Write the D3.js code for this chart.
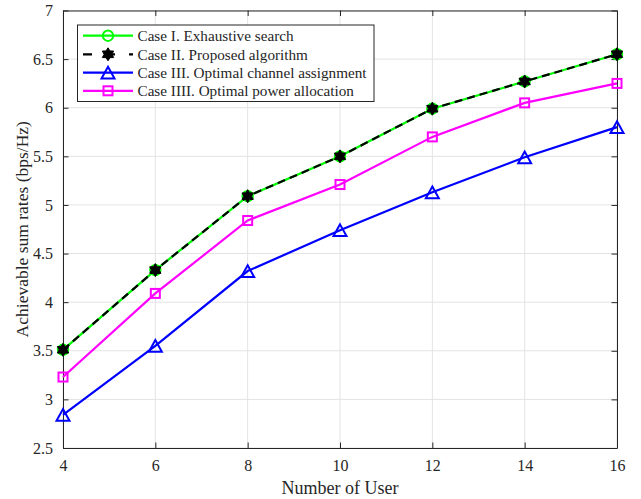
<!DOCTYPE html>
<html>
<head>
<meta charset="utf-8">
<script src="https://cdn.jsdelivr.net/npm/d3@7"></script>
<style>
  html, body { margin: 0; padding: 0; background: #fff; }
  svg { display: block; }
  text { font-family: "Liberation Serif", "Times New Roman", serif; fill: #262626; }
</style>
</head>
<body>
<svg id="chart" width="641" height="499"></svg>
<script>
// Number of users on the x axis
const users = [4, 6, 8, 10, 12, 14, 16];

// Achievable sum rates (bps/Hz) per scheme
const exhaustive = [3.51, 4.33, 5.09, 5.50, 5.99, 6.27, 6.55];
const proposed   = [3.51, 4.33, 5.09, 5.50, 5.99, 6.27, 6.55];
const channelOpt = [2.84, 3.55, 4.32, 4.74, 5.13, 5.49, 5.80];
const powerOpt   = [3.23, 4.09, 4.84, 5.21, 5.70, 6.05, 6.25];

const seriesNames = [
  "Case I. Exhaustive search",
  "Case II. Proposed algorithm",
  "Case III. Optimal channel assignment",
  "Case IIII. Optimal power allocation"
];

const xTicks = [4, 6, 8, 10, 12, 14, 16];
const yTicks = [2.5, 3, 3.5, 4, 4.5, 5, 5.5, 6, 6.5, 7];

const svg = d3.select("#chart");
const m = { left: 63, right: 24, top: 10.5, bottom: 51 };
const W = 641, H = 499;
const x = d3.scaleLinear().domain([4, 16]).range([m.left, W - m.right]);
const y = d3.scaleLinear().domain([2.5, 7]).range([H - m.bottom, m.top]);

// grid
const grid = svg.append("g").attr("stroke", "#e3e3e3").attr("stroke-width", 1);
xTicks.forEach(t => grid.append("line")
  .attr("x1", x(t)).attr("x2", x(t)).attr("y1", y(2.5)).attr("y2", y(7)));
yTicks.forEach(t => grid.append("line")
  .attr("x1", x(4)).attr("x2", x(16)).attr("y1", y(t)).attr("y2", y(t)));

// axes with inward ticks on all four sides
const tk = 5.5;
const fmt = d => String(d);
const axBottom = svg.append("g").attr("transform", `translate(0,${y(2.5)})`)
  .call(d3.axisBottom(x).tickValues(xTicks).tickSizeInner(-tk).tickSizeOuter(0).tickPadding(12).tickFormat(fmt));
const axTop = svg.append("g").attr("transform", `translate(0,${y(7)})`)
  .call(d3.axisTop(x).tickValues(xTicks).tickSizeInner(-tk).tickSizeOuter(0).tickFormat(""));
const axLeft = svg.append("g").attr("transform", `translate(${x(4)},0)`)
  .call(d3.axisLeft(y).tickValues(yTicks).tickSizeInner(-tk).tickSizeOuter(0).tickPadding(10).tickFormat(fmt));
const axRight = svg.append("g").attr("transform", `translate(${x(16)},0)`)
  .call(d3.axisRight(y).tickValues(yTicks).tickSizeInner(-tk).tickSizeOuter(0).tickFormat(""));
[axBottom, axTop, axLeft, axRight].forEach(g => {
  g.select(".domain").attr("stroke", "#262626").attr("stroke-width", 1);
  g.selectAll(".tick line").attr("stroke", "#262626");
  g.selectAll("text").style("font-family", "Liberation Serif, Times New Roman, serif")
    .style("font-size", "16px").attr("fill", "#262626");
});

// axis labels
svg.append("text").attr("x", (x(4) + x(16)) / 2).attr("y", 494)
  .attr("text-anchor", "middle").style("font-size", "18px").text("Number of User");
svg.append("text").attr("transform", `translate(28,${(y(2.5) + y(7)) / 2}) rotate(-90)`)
  .attr("text-anchor", "middle").style("font-size", "17.5px").text("Achievable sum rates (bps/Hz)");

// marker shapes
function hexagram(r) {
  const pts = [];
  for (let i = 0; i < 12; i++) {
    const a = -Math.PI / 2 + i * Math.PI / 6;
    const rr = i % 2 === 0 ? r : r * 0.6;
    pts.push([rr * Math.cos(a), rr * Math.sin(a)]);
  }
  return "M" + pts.map(p => p.join(",")).join("L") + "Z";
}
function triangle(s) {
  const h = s * 0.9;
  return `M0,${-h / 2}L${s / 2},${h / 2}L${-s / 2},${h / 2}Z`;
}

const series = [
  { name: seriesNames[0], vals: exhaustive, color: "#00ff00", dash: null,
    marker: g => g.append("circle").attr("r", 5.2).attr("fill", "none").attr("stroke", "#00ff00").attr("stroke-width", 2) },
  { name: seriesNames[1], vals: proposed, color: "#000000", dash: "8,5",
    marker: g => g.append("path").attr("d", hexagram(6.5)).attr("fill", "#000").attr("stroke", "#000").attr("stroke-width", 1) },
  { name: seriesNames[2], vals: channelOpt, color: "#0000ff", dash: null,
    marker: g => g.append("path").attr("d", triangle(13)).attr("fill", "none").attr("stroke", "#0000ff").attr("stroke-width", 2) },
  { name: seriesNames[3], vals: powerOpt, color: "#ff00ff", dash: null,
    marker: g => g.append("rect").attr("x", -4.5).attr("y", -4.5).attr("width", 9).attr("height", 9)
      .attr("fill", "none").attr("stroke", "#ff00ff").attr("stroke-width", 2) }
];

const line = d3.line().x((d, i) => x(users[i])).y(d => y(d));
const plot = svg.append("g");
// draw order: III, IIII, I, II on top
[2, 3, 0, 1].forEach(k => {
  const s = series[k];
  plot.append("path").datum(s.vals).attr("d", line)
    .attr("fill", "none").attr("stroke", s.color).attr("stroke-width", 2.2)
    .attr("stroke-dasharray", s.dash);
  s.vals.forEach((v, i) => {
    const g = plot.append("g").attr("transform", `translate(${x(users[i])},${y(v)})`);
    s.marker(g);
  });
});

// legend
const lg = svg.append("g");
lg.append("rect").attr("x", 77.5).attr("y", 25).attr("width", 296.5).attr("height", 76.5)
  .attr("fill", "#fff").attr("stroke", "#262626").attr("stroke-width", 1);
const rowY = [35.7, 54.3, 72.6, 90.8];
series.forEach((s, k) => {
  if (k === 1) {
    lg.append("line").attr("x1", 83).attr("x2", 133).attr("y1", rowY[k]).attr("y2", rowY[k])
      .attr("stroke", "#000").attr("stroke-width", 2.2).attr("stroke-dasharray", "9,14");
  } else {
    lg.append("line").attr("x1", 83).attr("x2", 133).attr("y1", rowY[k]).attr("y2", rowY[k])
      .attr("stroke", s.color).attr("stroke-width", 2.2);
  }
  const g = lg.append("g").attr("transform", `translate(108,${rowY[k]})`);
  s.marker(g);
  lg.append("text").attr("x", 137.5).attr("y", rowY[k]).attr("dy", "0.35em")
    .style("font-size", "15.2px").attr("fill", "#000").text(s.name);
});
</script>
</body>
</html>
